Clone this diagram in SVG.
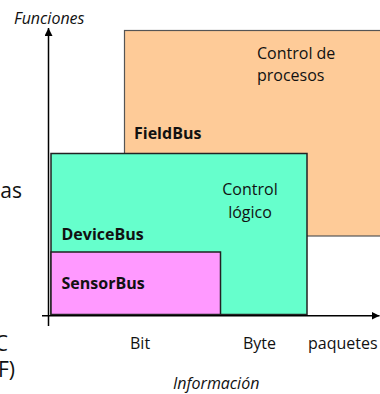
<svg xmlns="http://www.w3.org/2000/svg" width="380" height="394" viewBox="0 0 380 394">
<style>
.t{font-family:"Open Sans","Noto Sans",sans-serif;font-size:16px;fill:#111}
.b{font-weight:bold}
.i{font-style:italic;font-size:16px}
.big{font-size:21px}
.box{stroke:#222;stroke-width:1.5}
.ax{stroke:#000;stroke-width:1.5;fill:none}
</style>
<defs>
<marker id="ah" viewBox="0 0 8 8" refX="8" refY="4" markerWidth="8" markerHeight="8" markerUnits="userSpaceOnUse" orient="auto">
<path d="M0,0 L8,4 L0,8 Z" fill="#000"/>
</marker>
</defs>
<text class="t big" x="22" y="198" text-anchor="end">as</text>
<text class="t big" x="8" y="351" text-anchor="end">C</text>
<text class="t big" x="15" y="377" text-anchor="end">F)</text>
<g id="fieldbus">
<rect x="124.5" y="30.5" width="270" height="205.5" fill="#FECB98" stroke="#555" stroke-width="1.2"/>
<text class="t" x="257" y="59">Control de</text>
<text class="t" x="257" y="81">procesos</text>
<text class="t b" x="134" y="139">FieldBus</text>
</g>
<g id="devicebus">
<rect class="box" x="51" y="153.5" width="256" height="161" fill="#66FFCC"/>
<text class="t" x="250" y="195" text-anchor="middle">Control</text>
<text class="t" x="250" y="218" text-anchor="middle">lógico</text>
<text class="t b" x="61.5" y="240">DeviceBus</text>
</g>
<g id="sensorbus">
<rect class="box" x="51" y="252" width="169.5" height="62.5" fill="#FF99FF"/>
<text class="t b" x="61.5" y="288.5">SensorBus</text>
</g>
<g id="connectors">
<line class="ax" x1="48.5" y1="326" x2="48.5" y2="28" marker-end="url(#ah)"/>
<line class="ax" x1="42" y1="315.75" x2="379.5" y2="315.75" marker-end="url(#ah)"/>
</g>
<text class="t i" x="14" y="24">Funciones</text>
<text class="t" x="130" y="349">Bit</text>
<text class="t" x="243" y="349">Byte</text>
<text class="t" x="308" y="349">paquetes</text>
<text class="t i" x="173" y="389">Información</text>
</svg>
